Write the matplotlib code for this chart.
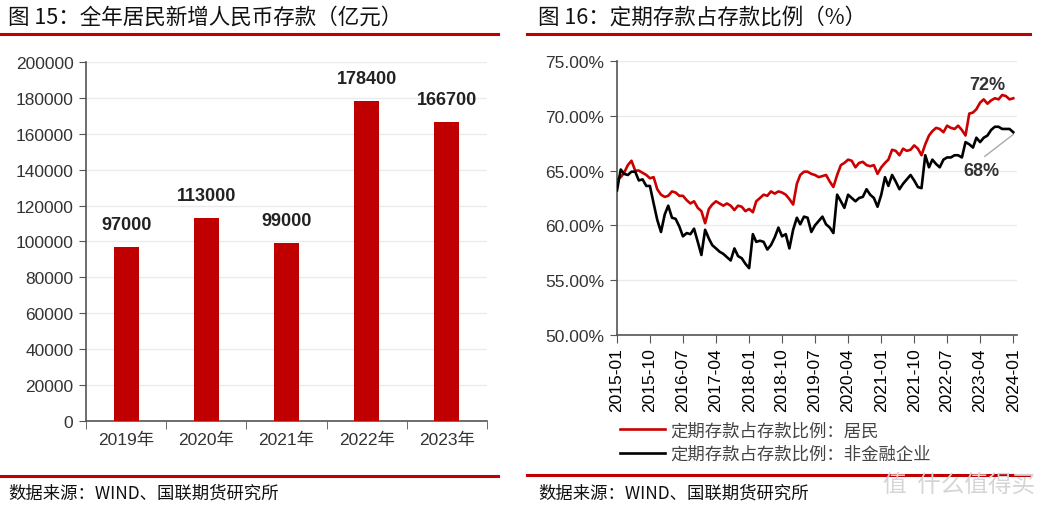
import numpy as np
import pandas as pd
import matplotlib
matplotlib.use("Agg")
import matplotlib.pyplot as plt
from matplotlib.lines import Line2D

plt.rcParams['font.family'] = ['Liberation Sans', 'Noto Sans CJK SC', 'DejaVu Sans']
plt.rcParams['axes.unicode_minus'] = False

## data: left chart
years = ['2019年', '2020年', '2021年', '2022年', '2023年']
new_deposits = [97000, 113000, 99000, 178400, 166700]

## data: right chart (monthly, 2015-01 .. 2024-01)
months = pd.date_range('2015-01-01', '2024-01-01', freq='MS')
resident = [64.2, 64.4, 64.8, 65.5, 65.9, 65.0, 65.0, 64.8, 64.6, 64.3,
            64.4, 63.3, 62.8, 62.6, 62.7, 63.1, 63.0, 62.7, 62.7, 62.3,
            62.0, 62.2, 61.6, 61.3, 60.2, 61.5, 61.9, 62.2, 62.0, 61.8,
            62.0, 61.8, 61.4, 61.8, 61.7, 61.3, 61.5, 61.2, 62.2, 62.5,
            62.8, 62.7, 63.1, 62.9, 63.1, 63.0, 62.8, 62.4, 61.9, 63.8,
            64.6, 64.9, 64.9, 64.7, 64.6, 64.4, 64.5, 64.6, 64.0, 63.5,
            64.6, 65.5, 65.7, 66.0, 65.9, 65.3, 65.7, 65.8, 65.5, 65.4,
            65.5, 64.7, 65.3, 65.7, 66.0, 66.9, 66.8, 66.4, 67.0, 66.8,
            66.9, 67.3, 67.0, 66.4, 67.4, 68.2, 68.6, 68.9, 68.8, 68.5,
            69.1, 68.9, 68.8, 69.1, 68.7, 68.2, 70.2, 70.3, 70.6, 71.2,
            71.5, 71.1, 71.4, 71.6, 71.5, 71.9, 71.8, 71.5, 71.6]
company = [63.2, 65.1, 64.7, 64.6, 64.9, 64.9, 64.1, 64.2, 63.6, 63.6,
           62.0, 60.5, 59.4, 61.0, 61.8, 60.7, 60.6, 59.9, 59.0, 59.3,
           59.2, 59.7, 58.5, 57.3, 59.6, 58.8, 58.2, 57.9, 57.6, 57.4,
           57.1, 56.8, 57.9, 57.2, 57.0, 56.5, 56.1, 59.2, 58.5, 58.6,
           58.5, 57.8, 58.2, 58.9, 59.8, 59.0, 59.2, 57.9, 59.6, 60.7,
           60.1, 60.8, 60.7, 59.4, 60.0, 60.4, 60.8, 60.1, 59.8, 59.3,
           62.8, 62.2, 61.6, 62.8, 62.5, 62.2, 62.5, 62.6, 63.3, 62.8,
           62.5, 61.7, 62.8, 64.4, 63.6, 64.6, 64.0, 63.3, 63.8, 64.2,
           64.6, 64.1, 63.5, 63.4, 66.4, 65.3, 66.0, 65.6, 65.3, 66.0,
           66.2, 66.2, 66.4, 66.4, 66.2, 67.6, 67.4, 67.1, 68.0, 67.6,
           68.0, 68.2, 68.7, 69.0, 69.0, 68.8, 68.8, 68.8, 68.5]
date_ticks = ['2015-01', '2015-10', '2016-07', '2017-04', '2018-01', '2018-10',
              '2019-07', '2020-04', '2021-01', '2021-10', '2022-07', '2023-04',
              '2024-01']

RED = '#C00000'
TXT = '#333333'

fig = plt.figure(figsize=(10.43, 5.10), dpi=100)

## frame lines / titles / sources
def hline(y, x0, x1):
    fig.add_artist(Line2D([x0 / 1043, x1 / 1043], [1 - y / 510, 1 - y / 510],
                          color=RED, lw=2.2))

hline(35, 0, 498)
hline(35, 527, 1030)
hline(477, 0, 498)
hline(476, 527, 1030)

fig.text(8 / 1043, 1 - 18 / 510, '图 15：全年居民新增人民币存款（亿元）', fontsize=15.5,
         color='#111111', va='center', family=['Noto Sans CJK SC'])
fig.text(538 / 1043, 1 - 18 / 510, '图 16：定期存款占存款比例（%）', fontsize=15.5,
         color='#111111', va='center', family=['Noto Sans CJK SC'])
fig.text(8 / 1043, 1 - 494 / 510, '数据来源：WIND、国联期货研究所', fontsize=12.5,
         color='#111111', va='center', family=['Noto Sans CJK SC'])
fig.text(538 / 1043, 1 - 494 / 510, '数据来源：WIND、国联期货研究所', fontsize=12.5,
         color='#111111', va='center', family=['Noto Sans CJK SC'])
## watermark
fig.text(1035 / 1043, 1 - 486 / 510, '值  什么值得买', fontsize=17, color='#d5d5d5',
         ha='right', va='center', family=['Noto Sans CJK SC'])

## left: bar chart
ax1 = fig.add_axes([86 / 1043, 1 - 422 / 510, 401 / 1043, 359 / 510])
pos = np.arange(len(years))
bars = ax1.bar(pos, new_deposits, width=0.31, color=RED, zorder=3)
for b, v in zip(bars, new_deposits):
    ax1.annotate(str(v), (b.get_x() + b.get_width() / 2, v), xytext=(0, 10),
                 textcoords='offset points', ha='center', va='bottom',
                 fontsize=13, fontweight='bold', color='#222222')
ax1.set_xlim(-0.5, len(years) - 0.5)
ax1.set_ylim(0, 200000)
ax1.set_yticks(np.arange(0, 200001, 20000))
ax1.set_xticks(pos)
ax1.set_xticklabels(years, fontsize=12.5, color=TXT)
ax1.set_xticks(np.arange(-0.5, len(years), 1), minor=True)
ax1.tick_params(axis='x', which='major', length=0, pad=8)
ax1.tick_params(axis='x', which='minor', length=6, direction='out', color='#555555')
ax1.tick_params(axis='y', length=5, direction='out', labelsize=12.5, labelcolor=TXT,
                color='#555555', pad=4)
ax1.yaxis.grid(True, color='#ebebeb', lw=1, zorder=0)
for s in ['top', 'right']:
    ax1.spines[s].set_visible(False)
for s in ['left', 'bottom']:
    ax1.spines[s].set_color('#555555')
    ax1.spines[s].set_linewidth(1.2)

## right: line chart
ax2 = fig.add_axes([617 / 1043, 1 - 336 / 510, 400 / 1043, 274 / 510])
ax2.plot(months, resident, color='#CC0000', lw=1.9, label='定期存款占存款比例：居民', zorder=3)
ax2.plot(months, company, color='black', lw=1.9, label='定期存款占存款比例：非金融企业', zorder=3)
ax2.set_ylim(50, 75)
ax2.set_yticks(np.arange(50, 75.1, 5))
ax2.set_yticklabels(['%.2f%%' % v for v in np.arange(50, 75.1, 5)])
tick_dates = pd.to_datetime(date_ticks)
ax2.set_xlim(tick_dates[0], pd.Timestamp('2024-02-01'))
ax2.set_xticks(tick_dates)
ax2.set_xticklabels(date_ticks, rotation=90, fontsize=12.5, color='black')
ax2.tick_params(axis='x', length=6, direction='out', color='#555555', pad=3)
ax2.tick_params(axis='y', length=5, direction='out', labelsize=12.5, labelcolor=TXT,
                color='#555555', pad=4)
ax2.yaxis.grid(True, color='#ebebeb', lw=1, zorder=0)
for s in ['top', 'right']:
    ax2.spines[s].set_visible(False)
for s in ['left', 'bottom']:
    ax2.spines[s].set_color('#555555')
    ax2.spines[s].set_linewidth(1.2)

## labels at the end
ax2.text(pd.Timestamp('2023-06-01'), 72.9, '72%', ha='center', va='center',
         fontsize=13, fontweight='bold', color='#333333')
ax2.text(pd.Timestamp('2023-04-15'), 65.0, '68%', ha='center', va='center',
         fontsize=13, fontweight='bold', color='#333333')
ax2.plot([pd.Timestamp('2023-05-10'), months[-1]], [66.3, 68.3], color='#aaaaaa', lw=1, zorder=2)

leg = ax2.legend(loc='upper left', bbox_to_anchor=(-0.01, -0.29), frameon=False,
                 fontsize=12.5, handlelength=2.6, handletextpad=0.3, labelspacing=0.32,
                 borderaxespad=0)
for t in leg.get_texts():
    t.set_color('#444444')
    t.set_family(['Noto Sans CJK SC'])

fig.savefig('out.png', dpi=100)
